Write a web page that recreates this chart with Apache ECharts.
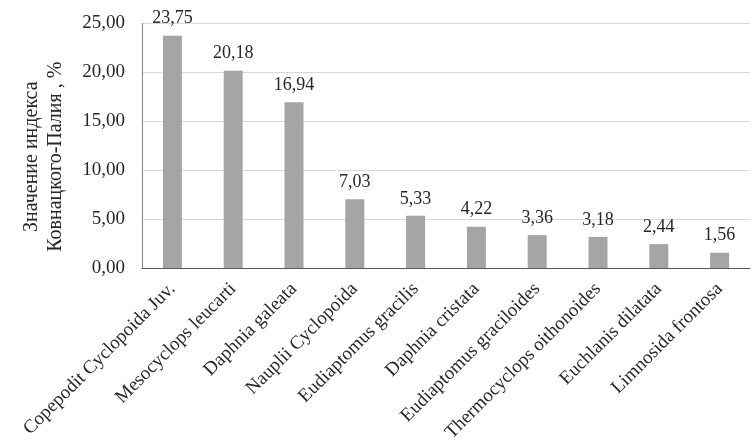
<!DOCTYPE html>
<html><head><meta charset="utf-8">
<script src="https://cdn.jsdelivr.net/npm/echarts@6/dist/echarts.min.js"></script>
<style>html,body{margin:0;padding:0;background:#fff}#c{width:754px;height:447px}</style>
</head><body><div id="c"></div>
<script>
const categories = ["Copepodit Cyclopoida Juv.","Mesocyclops leucarti","Daphnia galeata","Nauplii Cyclopoida","Eudiaptomus gracilis","Daphnia cristata","Eudiaptomus graciloides","Thermocyclops oithonoides","Euchlanis dilatata","Limnosida frontosa"];
const values = [23.75,20.18,16.94,7.03,5.33,4.22,3.36,3.18,2.44,1.56];
const yTicks = [0,5,10,15,20,25];
const yName = "Значение индекса\nКовнацкого-Палия , %";
const fmt = v => v.toFixed(2).replace('.', ',');
const F = '"Liberation Serif", "Times New Roman", serif';
const chart = echarts.init(document.getElementById('c'));
chart.setOption({
  animation:false,
  textStyle:{fontFamily:F},
  grid:{left:142,right:4,top:23.5,bottom:179,containLabel:false},
  xAxis:{type:'category',data:categories,
    axisLine:{lineStyle:{color:'#595959',width:1}},
    axisTick:{show:false},
    axisLabel:{rotate:45,interval:0,margin:18,fontFamily:F,fontSize:19,color:'#262626'}},
  yAxis:{type:'value',min:yTicks[0],max:yTicks[yTicks.length-1],interval:5,
    name:yName,nameLocation:'middle',nameGap:74,nameRotate:90,
    nameTextStyle:{fontFamily:F,fontSize:20,color:'#262626',lineHeight:24,padding:[0,22,0,0]},
    axisLine:{show:true,lineStyle:{color:'#868686'}},
    axisTick:{show:false},
    splitLine:{lineStyle:{color:'#d9d9d9'}},
    axisLabel:{formatter:fmt,fontFamily:F,fontSize:19,color:'#262626',margin:17}},
  series:[{type:'bar',data:values,barWidth:19,
    itemStyle:{color:'#a5a5a5'},
    label:{show:true,position:'top',distance:8,formatter:p=>fmt(p.value),fontFamily:F,fontSize:18,color:'#262626'}}]
});
</script></body></html>
